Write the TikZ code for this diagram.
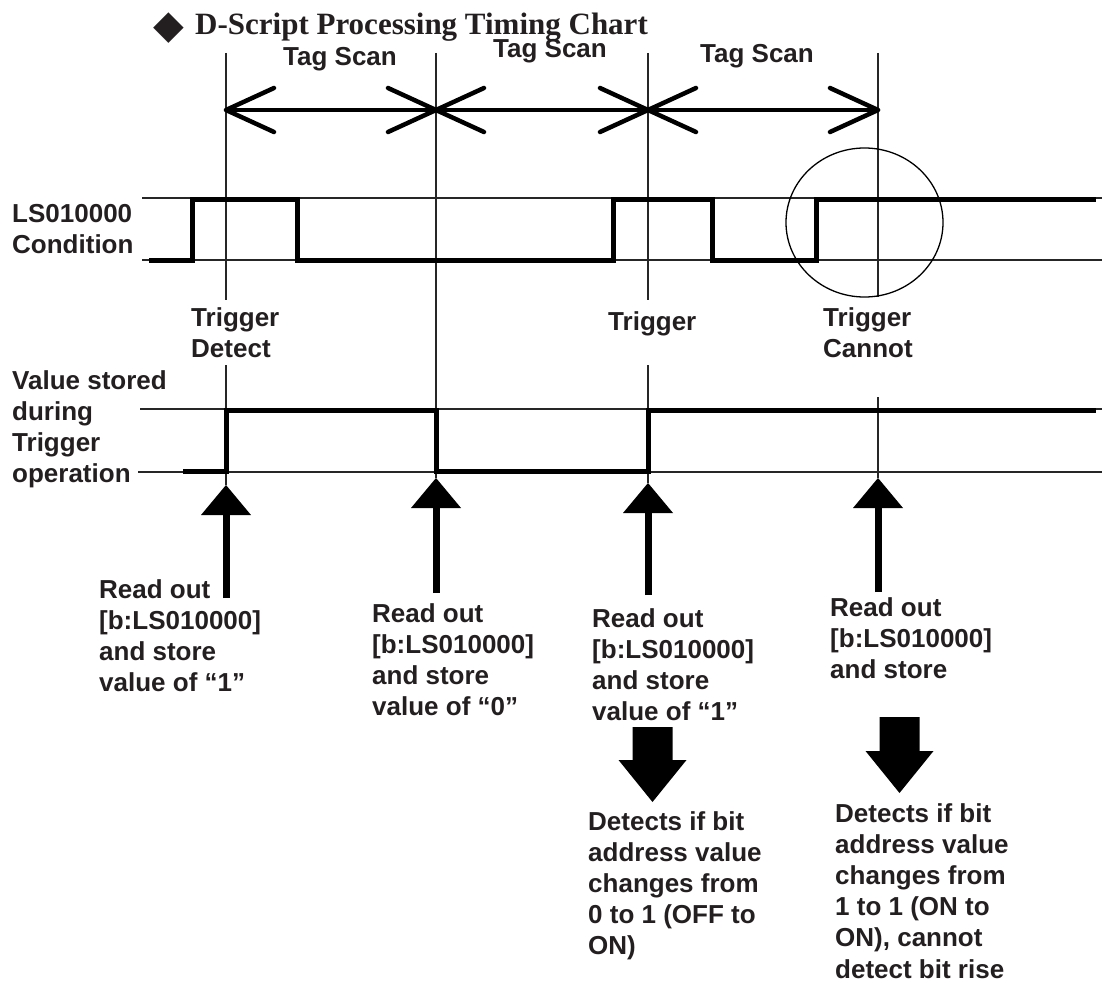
\documentclass[tikz,border=0pt]{standalone}
\usepackage{fontspec}
\setmainfont{Liberation Sans}
\newfontfamily\titlefont{Liberation Serif}
\newfontfamily\symfont{DejaVu Sans}
\usetikzlibrary{calc}
\definecolor{ink}{RGB}{35,31,32}
\newcommand{\mlines}[1]{\begin{tabular}[t]{@{}l@{}}#1\end{tabular}}
\begin{document}
\begin{tikzpicture}[x=1pt,y=-1pt,
  gridline/.style={line width=1.1pt, black!85},
  sig/.style={line width=5pt, black, line join=miter, line cap=butt},
  scanline/.style={line width=4.5pt, black, line cap=round, line join=round},
  upshaft/.style={line width=7pt, black, line cap=butt},
  headfill/.style={fill=black},
  lbl/.style={font=\fontsize{26}{31.2}\selectfont\bfseries, text=ink, inner sep=0pt, anchor=base west},
  ring/.style={line width=1.3pt, black}
]
\useasboundingbox (0,0) rectangle (1102,982);

% ---- title ----
\node[anchor=base west, inner sep=0pt, text=ink, font=\symfont\fontsize{40}{42}\selectfont] (dia) at (153,38) {◆};
\node[anchor=base west, inner sep=0pt, text=ink, font=\titlefont\fontsize{31}{36}\selectfont\bfseries] (title) at (195,35) {D-Script Processing Timing Chart};

% ---- coordinates ----
\coordinate (v1top) at (226,53);
\coordinate (v2top) at (436,53);
\coordinate (v3top) at (648,53);
\coordinate (v4top) at (878,53);
\coordinate (s1) at (226,110);
\coordinate (s2) at (436,110);
\coordinate (s3) at (648,110);
\coordinate (s4) at (878,110);

% ---- horizontal guide lines ----
\coordinate (h1l) at (142,198); \coordinate (h1r) at (1102,198);
\coordinate (h2l) at (142,260); \coordinate (h2r) at (1102,260);
\coordinate (h3l) at (140,409); \coordinate (h3r) at (1102,409);
\coordinate (h4l) at (138,472); \coordinate (h4r) at (1102,472);
\draw[gridline] (h1l) -- (h1r);
\draw[gridline] (h2l) -- (h2r);
\draw[gridline] (h3l) -- (h3r);
\draw[gridline] (h4l) -- (h4r);

% ---- vertical guide lines ----
\draw[gridline] (v1top) -- (226,300);
\draw[gridline] (226,365) -- (226,485);
\draw[gridline] (v2top) -- (436,478);
\draw[gridline] (v3top) -- (648,300);
\draw[gridline] (648,365) -- (648,483);
\draw[gridline] (v4top) -- (878,297);
\draw[gridline] (878,397) -- (878,478);

% ---- circle ----
\draw[ring] (864.5,222.5) ellipse [x radius=78.5, y radius=74.5];

% ---- Tag Scan arrows ----
\draw[scanline] (s1) -- (s2);
\draw[scanline] (s2) -- (s3);
\draw[scanline] (s3) -- (s4);
\draw[scanline] (s1) ++(48,-22) -- (s1) -- ++(48,22);
\draw[scanline] (s2) ++(-48,-22) -- (s2) -- ++(-48,22);
\draw[scanline] (s2) ++(48,-22) -- (s2) -- ++(48,22);
\draw[scanline] (s3) ++(-48,-22) -- (s3) -- ++(-48,22);
\draw[scanline] (s3) ++(48,-22) -- (s3) -- ++(48,22);
\draw[scanline] (s4) ++(-48,-22) -- (s4) -- ++(-48,22);

\node[lbl, anchor=base] (ts1) at (340,66) {Tag Scan};
\node[lbl, anchor=base] (ts2) at (550,58) {Tag Scan};
\node[lbl, anchor=base] (ts3) at (757,63) {Tag Scan};

% ---- signals ----
\draw[sig] (149,260.5) -- (192.5,260.5) -- (192.5,199.5) -- (297,199.5) -- (297,260.5)
  -- (613,260.5) -- (613,199.5) -- (712,199.5) -- (712,260.5) -- (816,260.5)
  -- (816,199.5) -- (1096,199.5);
\draw[sig] (183,471) -- (226.5,471) -- (226.5,410) -- (436,410) -- (436,471.5)
  -- (648,471.5) -- (648,410) -- (1096,410);

% ---- left labels ----
\node[lbl] (lslbl) at (12,222) {\mlines{LS010000\\Condition}};
\node[lbl] (vallbl) at (12,389) {\mlines{Value stored\\during\\Trigger\\operation}};

% ---- trigger labels ----
\node[lbl] (td) at (191,326) {\mlines{Trigger\\Detect}};
\node[lbl] (tr) at (608,330) {Trigger};
\node[lbl] (tc) at (823,326) {\mlines{Trigger\\Cannot}};

% ---- up arrows ----
\coordinate (a1tip) at (226,485); \coordinate (a1end) at (226,598);
\coordinate (a2tip) at (436,478); \coordinate (a2end) at (436,593);
\coordinate (a3tip) at (648,483); \coordinate (a3end) at (648,595);
\coordinate (a4tip) at (878,478); \coordinate (a4end) at (878,592);
\foreach \t/\e in {a1tip/a1end, a2tip/a2end, a3tip/a3end, a4tip/a4end}{
  \draw[upshaft] (\e) -- ($(\t)+(0,29)$);
  \fill[headfill] (\t) -- ++(-25,30) -- ++(50,0) -- cycle;
}

% ---- read-out texts ----
\node[lbl] (ra) at (99,598) {\mlines{Read out\\ {[}b:LS010000{]}\\and store\\value of “1”}};
\node[lbl] (rb) at (372,622) {\mlines{Read out\\ {[}b:LS010000{]}\\and store\\value of “0”}};
\node[lbl] (rc) at (592,627) {\mlines{Read out\\ {[}b:LS010000{]}\\and store\\value of “1”}};
\node[lbl] (rd) at (830,616) {\mlines{Read out\\ {[}b:LS010000{]}\\and store}};

% ---- block arrows ----
\coordinate (d1top) at (652.5,727); \coordinate (d1tip) at (652.5,802);
\coordinate (d2top) at (899.5,717); \coordinate (d2tip) at (899.5,793);
\fill[black] (d1top) ++(-20,0) -- ++(40,0) -- ++(0,33) -- ++(14,0) -- (d1tip) -- ($(d1top)+(-34,33)$) -- ++(14,0) -- cycle;
\fill[black] (d2top) ++(-20,0) -- ++(40,0) -- ++(0,34) -- ++(14,0) -- (d2tip) -- ($(d2top)+(-34,34)$) -- ++(14,0) -- cycle;

% ---- detect texts ----
\node[lbl] (de) at (588,830) {\mlines{Detects if bit\\address value\\changes from\\0 to 1 (OFF to\\ON)}};
\node[lbl] (df) at (835,822) {\mlines{Detects if bit\\address value\\changes from\\1 to 1 (ON to\\ON), cannot\\detect bit rise}};
\end{tikzpicture}
\end{document}
